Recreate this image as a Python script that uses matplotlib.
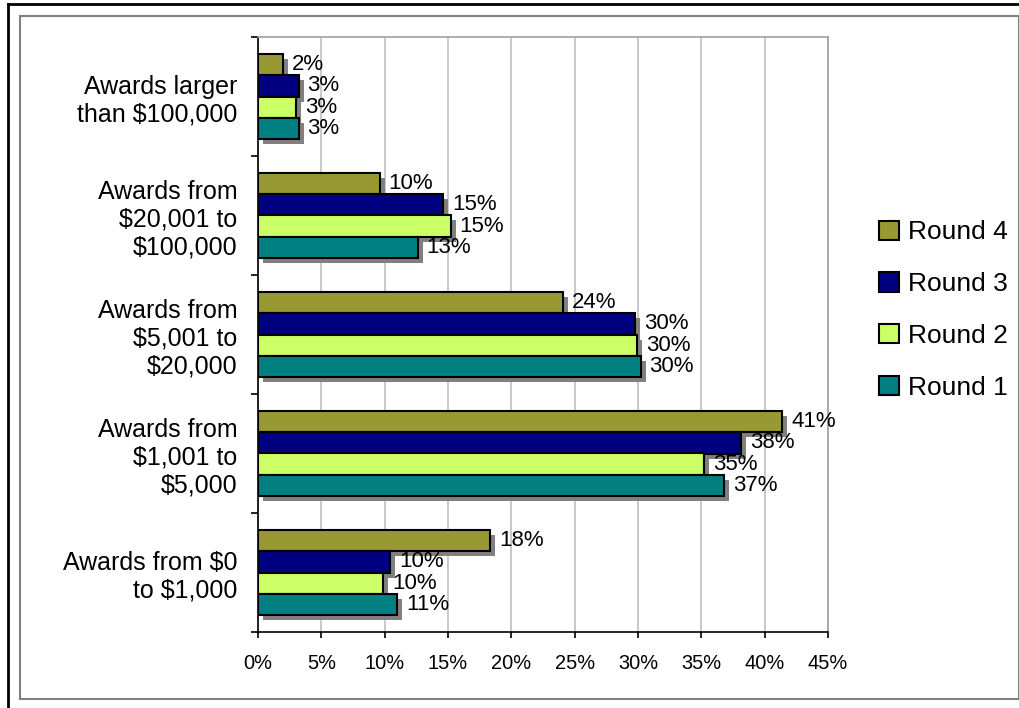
import numpy as np
import matplotlib
matplotlib.use("Agg")
import matplotlib.pyplot as plt
from matplotlib.transforms import ScaledTranslation
from matplotlib.lines import Line2D

plt.rcParams['font.family'] = ['Liberation Sans', 'DejaVu Sans']

# award size bands, bottom to top as drawn
categorias = ['Awards from $0\nto $1,000',
              'Awards from\n$1,001 to\n$5,000',
              'Awards from\n$5,001 to\n$20,000',
              'Awards from\n$20,001 to\n$100,000',
              'Awards larger\nthan $100,000']

# share of awards per round (%), same order as categorias
round1 = [11.0, 36.8, 30.2, 12.6, 3.2]
round2 = [9.9, 35.2, 29.9, 15.2, 3.0]
round3 = [10.4, 38.1, 29.8, 14.6, 3.2]
round4 = [18.3, 41.4, 24.1, 9.6, 2.0]

series = [('Round 4', round4, '#999933'),
          ('Round 3', round3, '#000080'),
          ('Round 2', round2, '#CCFF66'),
          ('Round 1', round1, '#008080')]

W, H = 1020, 708
fig = plt.figure(figsize=(W / 100, H / 100), dpi=100)
ax = fig.add_axes([258 / W, 1 - 632 / H, 570 / W, 595 / H])

y = np.arange(len(categorias))
h = 0.18
offsets = [1.5 * h, 0.5 * h, -0.5 * h, -1.5 * h]

# drop shadow shifted a few pixels right/down
sombra = ScaledTranslation(5 / 100, -5 / 100, fig.dpi_scale_trans)

handles = []
for (nombre, vals, color), off in zip(series, offsets):
    sh = ax.barh(y + off, vals, height=h, color='#808080', linewidth=0, zorder=2)
    for p in sh.patches:
        p.set_transform(ax.transData + sombra)
    b = ax.barh(y + off, vals, height=h, color=color, edgecolor='black',
                linewidth=1.5, zorder=3, label=nombre)
    handles.append(b)
    for yy, v in zip(y + off, vals):
        ax.annotate(f'{v:.0f}%', xy=(v, yy), xytext=(6.5, 0),
                    textcoords='offset points', ha='left', va='center',
                    fontsize=16, zorder=4)

ax.set_xlim(0, 45)
ax.set_ylim(-0.5, len(categorias) - 0.5)
ax.set_xticks(np.arange(0, 46, 5))
ax.set_xticklabels([f'{t}%' for t in range(0, 46, 5)], fontsize=14.4)
ax.tick_params(axis='x', length=4.5, width=1.2, pad=11, direction='out')

ax.set_yticks(y)
ax.set_yticklabels(categorias, fontsize=18, multialignment='right')
ax.set_yticks(np.arange(-0.5, len(categorias), 1), minor=True)
ax.tick_params(axis='y', which='major', length=0, pad=15)
ax.tick_params(axis='y', which='minor', length=5, width=1.2, direction='out')

ax.grid(axis='x', color='#C0C0C0', linewidth=1.2, zorder=0)
ax.set_axisbelow(True)
for s in ['left', 'bottom']:
    ax.spines[s].set_color('black')
    ax.spines[s].set_linewidth(1.2)
for s in ['top', 'right']:
    ax.spines[s].set_color('#A0A0A0')
    ax.spines[s].set_linewidth(1.2)

ax.legend(handles=handles, loc='center left', frameon=False,
          bbox_to_anchor=(866 / W, 1 - 310 / H), bbox_transform=fig.transFigure,
          fontsize=19, handlelength=0.75, handleheight=0.75,
          handletextpad=0.35, labelspacing=1.05, borderpad=0)

# outer and inner frames around the chart
def linea(x0, y0, x1, y1, color, lw):
    fig.add_artist(Line2D([x0 / W, x1 / W], [1 - y0 / H, 1 - y1 / H],
                          transform=fig.transFigure, color=color, linewidth=lw))

linea(8, 4, W + 5, 4, 'black', 2)
linea(8, 4, 8, H + 5, 'black', 2)
linea(20, 16, 1019, 16, '#808080', 1.5)
linea(20, 16, 20, 699, '#808080', 1.5)
linea(20, 699, 1019, 699, '#808080', 1.5)
linea(1019, 16, 1019, 699, '#808080', 1.5)

fig.savefig('out.png', dpi=100)
